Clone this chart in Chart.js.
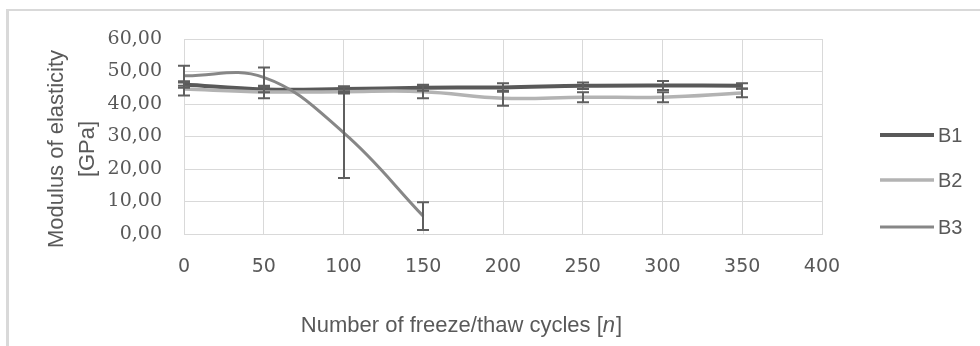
<!DOCTYPE html>
<html>
<head>
<meta charset="utf-8">
<title>Modulus of elasticity vs freeze/thaw cycles</title>
<script src="https://cdn.jsdelivr.net/npm/chart.js@4/dist/chart.umd.min.js"></script>
<style>
  html, body { margin: 0; padding: 0; background: #fff; }
  #wrap { position: relative; width: 980px; height: 346px; overflow: hidden; }
  #frame {
    position: absolute; left: 6px; top: 9px; width: 1000px; height: 400px;
    border-top: 2px solid #d9d9d9; border-left: 3px solid #d9d9d9;
  }
  #chart { position: absolute; left: 0; top: 0; }
</style>
</head>
<body>
<div id="wrap">
  <div id="frame"></div>
  <canvas id="chart" width="980" height="346"></canvas>
</div>
<script>
(function () {
  'use strict';

  /* ------------------------------------------
     DATA
     ------------------------------------------ */
  var cycles = [0, 50, 100, 150, 200, 250, 300, 350];
  var b1Values = [46.0, 44.5, 44.6, 45.0, 45.1, 45.6, 45.7, 45.6];
  var b1Errors = [1.0, 0.9, 0.9, 0.9, 1.3, 1.0, 1.4, 0.8];
  var b2Values = [44.6, 43.7, 43.8, 43.8, 41.8, 42.1, 42.1, 43.4];
  var b2Errors = [2.0, 1.9, 0.6, 2.0, 2.3, 1.55, 1.55, 1.3];
  var b3Cycles = [0, 50, 100, 150];
  var b3Values = [48.7, 48.2, 31.2, 5.5];
  var b3Errors = [3.1, 3.0, 14.0, 4.25];
  var seriesNames = ['B1', 'B2', 'B3'];
  var xTickValues = [0, 50, 100, 150, 200, 250, 300, 350, 400];
  var yTickValues = [0, 10, 20, 30, 40, 50, 60];

  var colors = { b1: '#595959', b2: '#b3b3b3', b3: '#878787' };
  var textColor = '#595959';
  var gridColor = '#d9d9d9';

  function points(xs, ys) {
    return xs.map(function (x, i) { return { x: x, y: ys[i] }; });
  }

  /* ------------------------------------------
     PLUGINS — error bars, titles, legend
     ------------------------------------------ */
  var errorBars = {
    id: 'errorBars',
    afterDatasetsDraw: function (chart) {
      var ctx = chart.ctx;
      var xs = chart.scales.x;
      var ys = chart.scales.y;
      ctx.save();
      ctx.strokeStyle = '#5f5f5f';
      ctx.lineWidth = 2;
      chart.data.datasets.forEach(function (ds) {
        ds.errors.forEach(function (e, i) {
          var p = ds.data[i];
          var x = Math.round(xs.getPixelForValue(p.x));
          var yTop = ys.getPixelForValue(p.y + e);
          var yBot = ys.getPixelForValue(p.y - e);
          ctx.beginPath();
          ctx.moveTo(x, yTop);
          ctx.lineTo(x, yBot);
          ctx.moveTo(x - 6, yTop);
          ctx.lineTo(x + 6, yTop);
          ctx.moveTo(x - 6, yBot);
          ctx.lineTo(x + 6, yBot);
          ctx.stroke();
        });
      });
      ctx.restore();
    }
  };

  var axisTitles = {
    id: 'axisTitles',
    afterDraw: function (chart) {
      var ctx = chart.ctx;
      ctx.save();
      ctx.fillStyle = textColor;
      ctx.textBaseline = 'middle';
      ctx.textAlign = 'center';
      ctx.font = '22px "Liberation Sans", sans-serif';
      ctx.translate(57, 149);
      ctx.rotate(-Math.PI / 2);
      ctx.fillText('Modulus of elasticity', 0, 0);
      ctx.fillText('[GPa]', 0, 31);
      ctx.restore();

      // x title, with the italic n
      ctx.save();
      ctx.fillStyle = textColor;
      ctx.textBaseline = 'middle';
      ctx.textAlign = 'left';
      var normal = '22px "Liberation Sans", sans-serif';
      var italic = 'italic 22px "Liberation Sans", sans-serif';
      var partA = 'Number of freeze/thaw cycles [';
      var partB = 'n';
      var partC = ']';
      ctx.font = normal;
      var wA = ctx.measureText(partA).width;
      var wC = ctx.measureText(partC).width;
      ctx.font = italic;
      var wB = ctx.measureText(partB).width;
      var x0 = 461 - (wA + wB + wC) / 2;
      var y0 = 326;
      ctx.font = normal;
      ctx.fillText(partA, x0, y0);
      ctx.font = italic;
      ctx.fillText(partB, x0 + wA, y0);
      ctx.font = normal;
      ctx.fillText(partC, x0 + wA + wB + 1, y0);
      ctx.restore();
    }
  };

  var sideLegend = {
    id: 'sideLegend',
    afterDraw: function (chart) {
      var ctx = chart.ctx;
      var rows = [135, 180, 227];
      ctx.save();
      ctx.font = '20px "Liberation Sans", sans-serif';
      ctx.textBaseline = 'middle';
      ctx.textAlign = 'left';
      seriesNames.forEach(function (name, i) {
        var ds = chart.data.datasets[i];
        ctx.strokeStyle = ds.borderColor;
        ctx.lineWidth = ds.borderWidth;
        ctx.beginPath();
        ctx.moveTo(880, rows[i]);
        ctx.lineTo(934, rows[i]);
        ctx.stroke();
        ctx.fillStyle = textColor;
        ctx.fillText(name, 938, rows[i] + 1);
      });
      ctx.restore();
    }
  };

  /* ------------------------------------------
     CHART
     ------------------------------------------ */
  var ctx = document.getElementById('chart').getContext('2d');

  new Chart(ctx, {
    type: 'line',
    data: {
      datasets: [
        {
          label: seriesNames[0],
          data: points(cycles, b1Values),
          errors: b1Errors,
          borderColor: colors.b1,
          borderWidth: 4,
          order: 3
        },
        {
          label: seriesNames[1],
          data: points(cycles, b2Values),
          errors: b2Errors,
          borderColor: colors.b2,
          borderWidth: 3.5,
          order: 2
        },
        {
          label: seriesNames[2],
          data: points(b3Cycles, b3Values),
          errors: b3Errors,
          borderColor: colors.b3,
          borderWidth: 3,
          order: 1
        }
      ]
    },
    options: {
      responsive: false,
      animation: false,
      layout: { padding: { left: 0, top: 39, right: 158, bottom: 0 } },
      elements: {
        line: { tension: 0.4, fill: false },
        point: { radius: 0, hoverRadius: 0 }
      },
      plugins: {
        legend: { display: false },
        tooltip: { enabled: false }
      },
      scales: {
        x: {
          type: 'linear',
          min: 0,
          max: 400,
          afterBuildTicks: function (scale) {
            scale.ticks = xTickValues.map(function (v) { return { value: v }; });
          },
          afterFit: function (scale) { scale.height = 112; },
          grid: { color: gridColor, lineWidth: 1, drawTicks: false },
          border: { color: gridColor, width: 1 },
          ticks: {
            padding: 22,
            color: textColor,
            font: { family: "'DejaVu Sans', sans-serif", size: 19 },
            maxRotation: 0
          }
        },
        y: {
          min: 0,
          max: 60,
          afterBuildTicks: function (scale) {
            scale.ticks = yTickValues.map(function (v) { return { value: v }; });
          },
          afterFit: function (scale) { scale.width = 184; },
          grid: { color: gridColor, lineWidth: 1, drawTicks: false },
          border: { color: gridColor, width: 1 },
          ticks: {
            padding: 22,
            color: textColor,
            font: { family: "'DejaVu Serif', serif", size: 19 },
            callback: function (v) { return v.toFixed(2).replace('.', ','); }
          }
        }
      }
    },
    plugins: [errorBars, axisTitles, sideLegend]
  });
})();
</script>
</body>
</html>
